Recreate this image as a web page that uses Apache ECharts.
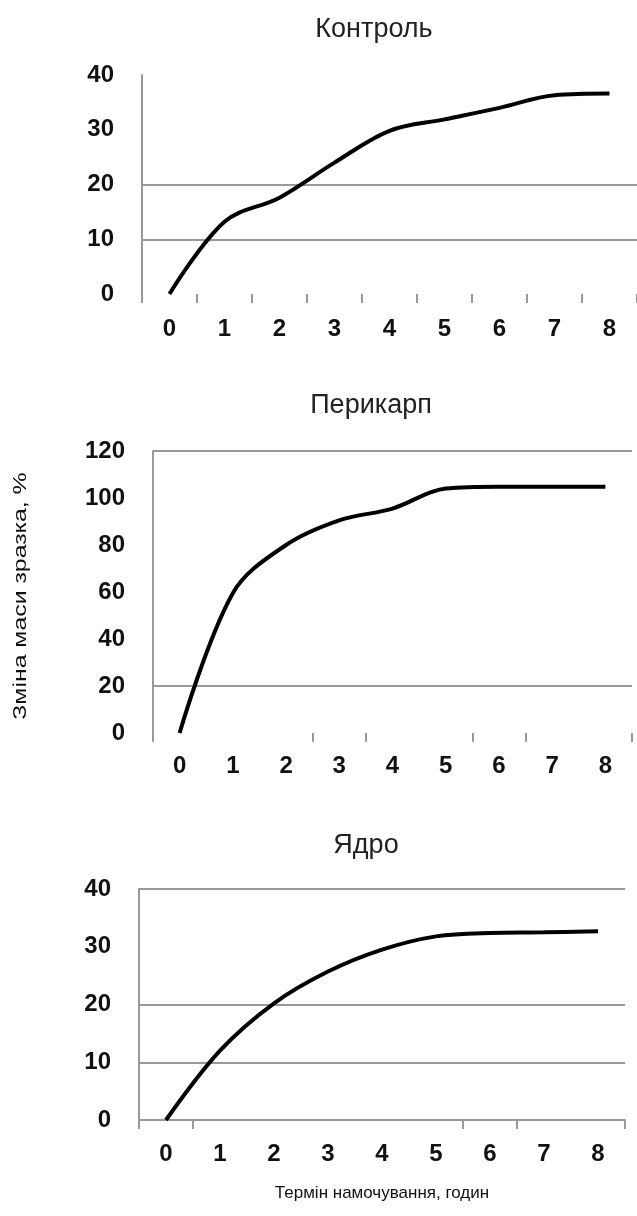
<!DOCTYPE html>
<html>
<head>
<meta charset="utf-8">
<script src="https://cdnjs.cloudflare.com/ajax/libs/echarts/6.0.0/echarts.min.js"></script>
<style>
  html, body { margin: 0; padding: 0; background: #fff; }
  #chart { width: 637px; height: 1216px; }
</style>
</head>
<body>
<div id="chart"></div>
<script>
// години намочування
var hours = ['0', '1', '2', '3', '4', '5', '6', '7', '8'];
// зміна маси зразка, %
var control  = [0, 13.2, 17.6, 24.0, 29.8, 31.9, 34.0, 36.3, 36.6];
var pericarp = [0, 59.5, 80.0, 90.5, 95.5, 104.0, 104.8, 104.8, 104.8];
var kernel   = [0, 12.0, 20.2, 25.7, 29.5, 31.8, 32.4, 32.5, 32.7];

var titles = ['Контроль', 'Перикарп', 'Ядро'];
var yName = 'Зміна маси зразка, %';
var xName = 'Термін намочування, годин';

var narrow = '"Liberation Sans Narrow", "Arial Narrow", "Liberation Sans", Arial, sans-serif';
var plain = '"Liberation Sans", Arial, sans-serif';
var gridGrey = '#999';
var off = 'rgba(0,0,0,0)';

var chart = echarts.init(document.getElementById('chart'));

// keep: which category boundaries still show a tick mark (null = all of them)
function xAxisFor(i, showLine, labelMargin, keep) {
  return {
    type: 'category', gridIndex: i, data: hours, boundaryGap: true,
    axisLine: { show: showLine, lineStyle: { color: gridGrey, width: 2 } },
    axisTick: {
      show: true, length: 9, lineStyle: { color: gridGrey, width: 2 },
      interval: keep ? function (idx) { return keep.indexOf(idx) >= 0; } : 0
    },
    axisLabel: { interval: 0, margin: labelMargin, fontSize: 24, fontWeight: 'bold', fontFamily: narrow, color: '#111' }
  };
}

function yAxisFor(i, max, step, lineColors) {
  return {
    type: 'value', gridIndex: i, min: 0, max: max, interval: step,
    axisLine: { show: true, lineStyle: { color: gridGrey, width: 2 } },
    axisTick: { show: false },
    axisLabel: { margin: 28, fontSize: 24, fontWeight: 'bold', fontFamily: narrow, color: '#111' },
    splitLine: { show: true, lineStyle: { color: lineColors, width: 2 } }
  };
}

function lineFor(i, data) {
  return {
    type: 'line', xAxisIndex: i, yAxisIndex: i, data: data,
    smooth: 0.35, showSymbol: false, silent: true,
    lineStyle: { color: '#000', width: 4 }
  };
}

function titleFor(text, x, y) {
  return {
    text: text, left: x, top: y, textAlign: 'center', textVerticalAlign: 'middle',
    textStyle: { fontSize: 27, fontWeight: 'normal', fontFamily: narrow, color: '#222' }
  };
}

var option = {
  backgroundColor: '#fff',
  animation: false,
  title: [
    titleFor(titles[0], 369, 25),
    titleFor(titles[1], 366, 401),
    titleFor(titles[2], 361, 841)
  ],
  grid: [
    { left: 142, top: 75, width: 504, height: 219 },
    { left: 153, top: 451, width: 479, height: 282 },
    { left: 139, top: 889, width: 486, height: 231 }
  ],
  xAxis: [
    xAxisFor(0, false, 23, null),
    xAxisFor(1, false, 21, [0, 3, 4, 6, 7]),
    Object.assign(xAxisFor(2, true, 22, [0, 1, 6, 7]), {
      name: xName, nameLocation: 'middle', nameGap: 65,
      nameTextStyle: { fontSize: 17, fontFamily: plain, color: '#111' }
    })
  ],
  yAxis: [
    yAxisFor(0, 40, 10, [off, gridGrey, gridGrey, off, off]),
    yAxisFor(1, 120, 20, [off, gridGrey, off, off, off, off, gridGrey]),
    yAxisFor(2, 40, 10, [off, gridGrey, gridGrey, off, gridGrey])
  ],
  graphic: [{
    type: 'text', x: 21, y: 596, rotation: Math.PI / 2, scaleX: 1.38,
    style: { text: yName, font: '18px ' + plain, fill: '#111',
             textAlign: 'center', textVerticalAlign: 'middle' }
  }],
  series: [
    lineFor(0, control),
    lineFor(1, pericarp),
    lineFor(2, kernel)
  ]
};

chart.setOption(option);
</script>
</body>
</html>
